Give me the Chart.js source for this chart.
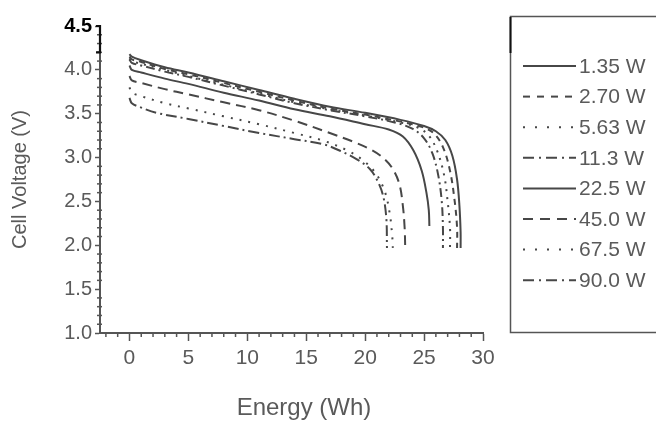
<!DOCTYPE html>
<html>
<head>
<meta charset="utf-8">
<script src="https://cdn.jsdelivr.net/npm/chart.js@4"></script>
<style>
  html, body { margin: 0; padding: 0; background: #fff; }
  #wrap { width: 656px; height: 423px; position: relative; }
</style>
</head>
<body>
<div id="wrap"><canvas id="c" width="656" height="423"></canvas></div>
<script>
// ---- data ----
const seriesLabels = ['1.35 W', '2.70 W', '5.63 W', '11.3 W', '22.5 W', '45.0 W', '67.5 W', '90.0 W'];
const xTitle = 'Energy (Wh)';
const yTitle = 'Cell Voltage (V)';

const e135 = [0, 0.2, 1, 3, 5, 8, 11, 14, 17, 20, 23, 25, 26, 26.8, 27.4, 27.8, 28.0, 28.1, 28.1];
const v135 = [4.18, 4.15, 4.11, 4.03, 3.97, 3.87, 3.77, 3.67, 3.58, 3.51, 3.43, 3.36, 3.30, 3.20, 3.02, 2.75, 2.45, 2.15, 1.97];

const e270 = [0, 0.2, 1, 3, 5, 8, 11, 14, 17, 20, 23, 24.8, 25.8, 26.6, 27.2, 27.6, 27.8, 27.8];
const v270 = [4.15, 4.12, 4.09, 4.01, 3.95, 3.85, 3.75, 3.65, 3.56, 3.49, 3.41, 3.35, 3.28, 3.12, 2.85, 2.5, 2.2, 1.97];

const e563 = [0, 0.2, 1, 3, 5, 8, 11, 14, 17, 20, 23, 24.5, 25.4, 26.1, 26.7, 27.0, 27.2, 27.2];
const v563 = [4.13, 4.10, 4.07, 4.00, 3.93, 3.83, 3.73, 3.63, 3.55, 3.48, 3.40, 3.34, 3.25, 3.08, 2.8, 2.5, 2.2, 1.97];

const e113 = [0, 0.2, 1, 3, 5, 8, 11, 14, 17, 20, 22.5, 24, 25, 25.7, 26.2, 26.5, 26.6, 26.6];
const v113 = [4.12, 4.08, 4.05, 3.98, 3.92, 3.82, 3.72, 3.62, 3.54, 3.47, 3.40, 3.33, 3.22, 3.05, 2.8, 2.5, 2.2, 1.97];

const e225 = [0, 0.2, 1, 3, 5, 8, 11, 14, 17, 20, 22, 23.2, 24.1, 24.8, 25.2, 25.4, 25.45];
const v225 = [4.05, 4.00, 3.97, 3.90, 3.84, 3.74, 3.65, 3.55, 3.47, 3.38, 3.32, 3.24, 3.08, 2.85, 2.6, 2.4, 2.22];

const e450 = [0, 0.2, 1, 3, 5, 8, 11, 14, 17, 19, 20.5, 21.5, 22.3, 22.9, 23.2, 23.35, 23.4];
const v450 = [3.93, 3.88, 3.85, 3.78, 3.72, 3.63, 3.54, 3.42, 3.28, 3.18, 3.09, 3.00, 2.88, 2.7, 2.45, 2.2, 1.97];

const e675 = [0, 0.2, 1, 3, 5, 8, 11, 14, 16.5, 18.5, 20, 21, 21.7, 22.1, 22.3, 22.35];
const v675 = [3.80, 3.74, 3.70, 3.62, 3.56, 3.47, 3.38, 3.28, 3.19, 3.08, 2.95, 2.8, 2.6, 2.35, 2.1, 1.97];

const e900 = [0, 0.2, 1, 2.3, 5, 8, 11, 14, 16.5, 18, 19.3, 20.4, 21.1, 21.55, 21.8, 21.85];
const v900 = [3.68, 3.62, 3.57, 3.51, 3.44, 3.36, 3.28, 3.21, 3.15, 3.07, 2.98, 2.87, 2.72, 2.55, 2.3, 1.97];

const xTickValues = [0, 5, 10, 15, 20, 25, 30];
const yTickValues = [1.0, 1.5, 2.0, 2.5, 3.0, 3.5, 4.0, 4.5];

// ---- styles ----
const lineColor = '#474747';
const textColor = '#5a5a5a';
const dashes = [[], [6, 5], [2, 6], [9, 4, 2, 4], [], [10, 6], [2, 7], [11, 4, 2, 4]];
const legendDashes = [[], [7, 7], [2, 10], [11, 5, 2, 5], [], [10, 7], [2, 10], [11, 5, 2, 5]];
const energies = [e135, e270, e563, e113, e225, e450, e675, e900];
const voltages = [v135, v270, v563, v113, v225, v450, v675, v900];

function pts(xs, ys) { return xs.map((x, i) => ({ x: x, y: ys[i] })); }

const datasets = seriesLabels.map((lab, i) => ({
  label: lab,
  data: pts(energies[i], voltages[i]),
  borderColor: lineColor,
  borderWidth: 2,
  borderDash: dashes[i],
  pointRadius: 0,
  fill: false,
  tension: 0.35,
  showLine: true
}));

const FONT = "'Liberation Sans', Arial, sans-serif";

const extras = {
  id: 'extras',
  afterDraw(chart) {
    const { ctx, scales: { x, y } } = chart;
    ctx.save();
    // minor ticks
    ctx.strokeStyle = '#555';
    ctx.lineWidth = 1.5;
    for (let v = -2; v <= 30; v++) {
      if (v % 5 === 0) continue;
      const px = x.getPixelForValue(v);
      ctx.beginPath(); ctx.moveTo(px, y.bottom); ctx.lineTo(px, y.bottom + 4); ctx.stroke();
    }
    for (let k = 10; k <= 45; k++) {
      if (k % 5 === 0) continue;
      const py = y.getPixelForValue(k / 10);
      ctx.beginPath(); ctx.moveTo(x.left - 3, py); ctx.lineTo(x.left + 2, py); ctx.stroke();
    }
    // top bracket of y axis
    ctx.strokeStyle = '#111';
    ctx.lineWidth = 2.2;
    const yt = y.getPixelForValue(4.5), yb = y.getPixelForValue(4.2);
    ctx.beginPath();
    ctx.moveTo(x.left - 4, yt); ctx.lineTo(x.left, yt); ctx.lineTo(x.left, yb); ctx.lineTo(x.left - 4, yb);
    ctx.stroke();

    // x axis title
    ctx.fillStyle = textColor;
    ctx.font = '24px ' + FONT;
    ctx.textAlign = 'center';
    ctx.textBaseline = 'middle';
    ctx.fillText(xTitle, 304, 408);

    // legend box
    ctx.strokeStyle = '#555';
    ctx.lineWidth = 1.5;
    ctx.strokeRect(510.5, 16.5, 160, 316);
    ctx.strokeStyle = '#111';
    ctx.lineWidth = 2;
    ctx.beginPath(); ctx.moveTo(510.5, 17); ctx.lineTo(510.5, 53); ctx.stroke();

    ctx.font = '21px ' + FONT;
    ctx.textBaseline = 'middle';
    ctx.textAlign = 'left';
    chart.data.datasets.forEach((ds, i) => {
      const ly = 66 + i * 30.6;
      ctx.strokeStyle = ds.borderColor;
      ctx.lineWidth = 2;
      ctx.setLineDash(legendDashes[i]);
      ctx.beginPath(); ctx.moveTo(523, ly); ctx.lineTo(576, ly); ctx.stroke();
      ctx.setLineDash([]);
      ctx.fillStyle = textColor;
      ctx.fillText(ds.label, 579, ly + 1);
    });
    ctx.restore();
  }
};

new Chart(document.getElementById('c'), {
  type: 'line',
  data: { datasets: datasets },
  options: {
    responsive: false,
    animation: false,
    layout: { padding: { left: 0, right: 173, top: 26, bottom: 0 } },
    plugins: { legend: { display: false }, tooltip: { enabled: false } },
    scales: {
      x: {
        type: 'linear',
        min: -2.5,
        max: 30,
        afterFit(s) { s.height = 90; },
        afterBuildTicks(s) { s.ticks = xTickValues.map(v => ({ value: v })); },
        border: { display: true, color: '#555', width: 2 },
        grid: { display: true, drawOnChartArea: false, drawTicks: true, tickLength: 8, tickColor: '#555', tickWidth: 1.5 },
        ticks: { color: textColor, font: { family: FONT, size: 21 }, padding: 5, maxRotation: 0, callback: v => String(v) },
        title: { display: false }
      },
      y: {
        type: 'linear',
        min: 1.0,
        max: 4.5,
        afterFit(s) { s.width = 100; },
        afterBuildTicks(s) { s.ticks = yTickValues.map(v => ({ value: v })); },
        border: { display: true, color: '#555', width: 2 },
        grid: { display: true, drawOnChartArea: false, drawTicks: true, tickLength: 5, tickColor: '#555', tickWidth: 1.5 },
        ticks: {
          color: ctx => (ctx.tick && ctx.tick.value === 4.5) ? '#000' : textColor,
          font: ctx => ({ family: FONT, size: 20, weight: (ctx.tick && ctx.tick.value === 4.5) ? 'bold' : 'normal' }),
          padding: 3,
          callback: v => Number(v).toFixed(1)
        },
        title: { display: true, text: yTitle, color: textColor, font: { family: FONT, size: 20 }, padding: { top: 8, bottom: 0 } }
      }
    }
  },
  plugins: [extras]
});
</script>
</body>
</html>
